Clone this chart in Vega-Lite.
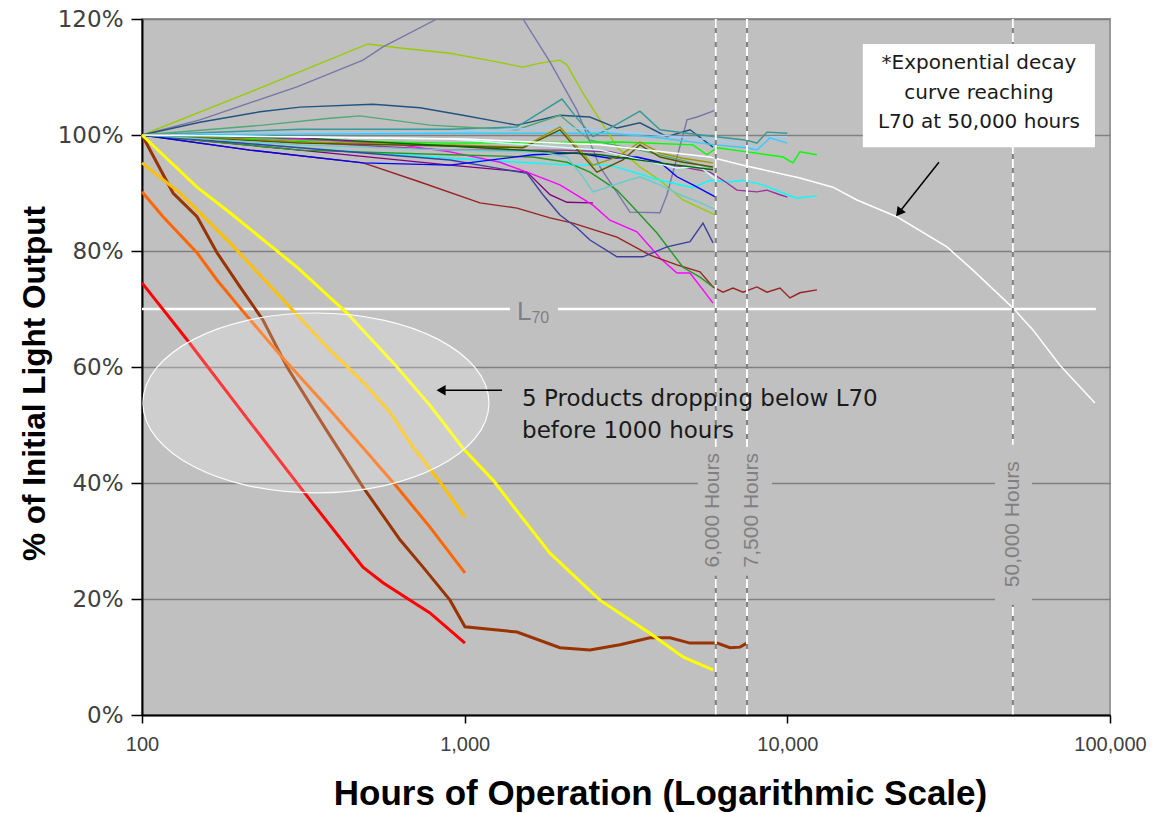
{
"$schema": "https://vega.github.io/schema/vega-lite/v6.json",
"width": 968, "height": 696,
"autosize": {"type": "none"},
"padding": {"left": 142, "top": 19, "right": 49, "bottom": 98},
"background": "#ffffff",
"config": {"view": {"fill": "#C0C0C0", "stroke": "#999999", "strokeWidth": 2}},
"resolve": {"scale": {"color": "independent"}},
"datasets": {
"cluster": [
{"s":"A","h":100,"pct":100},{"s":"A","h":216.1,"pct":107.4},{"s":"A","h":501.5,"pct":115.7},{"s":"A","h":630.3,"pct":115.0},{"s":"A","h":900.5,"pct":114.1},{"s":"A","h":1259,"pct":112.6},{"s":"A","h":1516,"pct":111.7},{"s":"A","h":1712,"pct":112.4},{"s":"A","h":1974,"pct":112.9},{"s":"A","h":2075,"pct":112.1},{"s":"A","h":2326,"pct":107.2},{"s":"A","h":2626,"pct":102.6},{"s":"A","h":2965,"pct":97.9},{"s":"A","h":3493,"pct":94.5},{"s":"A","h":4030,"pct":92.2},{"s":"A","h":4749,"pct":88.8},{"s":"A","h":6000,"pct":86.2},
{"s":"B","h":100,"pct":100},{"s":"B","h":151.2,"pct":102.6},{"s":"B","h":302.2,"pct":108.3},{"s":"B","h":484.1,"pct":112.9},{"s":"B","h":558.3,"pct":115.2},{"s":"B","h":820.7,"pct":120},{"s":"B","h":1115,"pct":124.1},{"s":"B","h":1516,"pct":120},{"s":"B","h":1838,"pct":112.6},{"s":"B","h":2228,"pct":104.3},{"s":"B","h":2626,"pct":94.5},{"s":"B","h":3253,"pct":86.7},{"s":"B","h":4030,"pct":86.6},{"s":"B","h":4237,"pct":89.7},{"s":"B","h":4887,"pct":102.6},{"s":"B","h":5248,"pct":103.1},{"s":"B","h":6000,"pct":104.3},
{"s":"C","h":100,"pct":100},{"s":"C","h":151.2,"pct":102.2},{"s":"C","h":232.1,"pct":104.0},{"s":"C","h":308.8,"pct":104.8},{"s":"C","h":519.7,"pct":105.3},{"s":"C","h":727.3,"pct":104.7},{"s":"C","h":987.9,"pct":103.4},{"s":"C","h":1453,"pct":101.7},{"s":"C","h":1974,"pct":103.4},{"s":"C","h":2445,"pct":103.1},{"s":"C","h":2965,"pct":101.2},{"s":"C","h":3493,"pct":102.1},{"s":"C","h":4237,"pct":99.7},{"s":"C","h":4993,"pct":100.9},{"s":"C","h":5884,"pct":97.9},
{"s":"D","h":100,"pct":100},{"s":"D","h":308.8,"pct":101.0},{"s":"D","h":900.5,"pct":101.0},{"s":"D","h":1453,"pct":101.4},{"s":"D","h":2003,"pct":106.2},{"s":"D","h":2228,"pct":102.9},{"s":"D","h":2498,"pct":99.7},{"s":"D","h":2820,"pct":101.2},{"s":"D","h":3493,"pct":104.1},{"s":"D","h":4030,"pct":100.9},{"s":"D","h":4887,"pct":100.3},{"s":"D","h":6000,"pct":99.7},{"s":"D","h":7497,"pct":99.1},{"s":"D","h":8051,"pct":98.6},{"s":"D","h":8648,"pct":100.5},{"s":"D","h":10000,"pct":100.3},
{"s":"E","h":100,"pct":100},{"s":"E","h":237.1,"pct":101.7},{"s":"E","h":382.5,"pct":102.9},{"s":"E","h":473.8,"pct":103.3},{"s":"E","h":780.6,"pct":101.7},{"s":"E","h":1115,"pct":101.2},{"s":"E","h":1453,"pct":100.9},{"s":"E","h":1974,"pct":103.4},{"s":"E","h":2445,"pct":99.1},{"s":"E","h":3493,"pct":97.4},{"s":"E","h":4649,"pct":95.7},{"s":"E","h":5884,"pct":94.3},
{"s":"F","h":100,"pct":100},{"s":"F","h":308.8,"pct":100.3},{"s":"F","h":900.5,"pct":100.5},{"s":"F","h":1974,"pct":101.4},{"s":"F","h":3493,"pct":100.3},{"s":"F","h":6000,"pct":99.1},{"s":"F","h":7497,"pct":98.3},{"s":"F","h":8226,"pct":97.8},{"s":"F","h":8836,"pct":99.7},{"s":"F","h":10000,"pct":99.7},
{"s":"G","h":100,"pct":100},{"s":"G","h":900.5,"pct":100.3},{"s":"G","h":1838,"pct":100.3},{"s":"G","h":2820,"pct":100.3},{"s":"G","h":3752,"pct":99.7},{"s":"G","h":6000,"pct":98.3},{"s":"G","h":7497,"pct":97.8},{"s":"G","h":8051,"pct":97.4},{"s":"G","h":8836,"pct":99.5},{"s":"G","h":10000,"pct":98.6},
{"s":"H","h":100,"pct":100},{"s":"H","h":308.8,"pct":99.1},{"s":"H","h":900.5,"pct":98.6},{"s":"H","h":3029,"pct":98.8},{"s":"H","h":5100,"pct":98.3},{"s":"H","h":5637,"pct":96.6},{"s":"H","h":6055,"pct":97.8},{"s":"H","h":7497,"pct":97.1},{"s":"H","h":9691,"pct":96.2},{"s":"H","h":10410,"pct":95.2},{"s":"H","h":10940,"pct":97.1},{"s":"H","h":12350,"pct":96.6},
{"s":"I","h":100,"pct":100},{"s":"I","h":308.8,"pct":97.8},{"s":"I","h":900.5,"pct":96.0},{"s":"I","h":1484,"pct":95.3},{"s":"I","h":2120,"pct":94.8},{"s":"I","h":2820,"pct":94.8},{"s":"I","h":3569,"pct":93.1},{"s":"I","h":4030,"pct":92.2},{"s":"I","h":5100,"pct":90.9},{"s":"I","h":5759,"pct":92.2},{"s":"I","h":6641,"pct":91.9},{"s":"I","h":7286,"pct":92.2},{"s":"I","h":8404,"pct":91.4},{"s":"I","h":10000,"pct":89.7},{"s":"I","h":10710,"pct":89.1},{"s":"I","h":12350,"pct":89.5},
{"s":"J","h":100,"pct":100},{"s":"J","h":308.8,"pct":98.8},{"s":"J","h":900.5,"pct":97.4},{"s":"J","h":1974,"pct":97.4},{"s":"J","h":2820,"pct":97.1},{"s":"J","h":4030,"pct":95.2},{"s":"J","h":5759,"pct":93.6},{"s":"J","h":6318,"pct":92.2},{"s":"J","h":6981,"pct":90.5},{"s":"J","h":8051,"pct":90.2},{"s":"J","h":8648,"pct":90.5},{"s":"J","h":9486,"pct":89.7},{"s":"J","h":10000,"pct":89.3},
{"s":"K","h":100,"pct":100},{"s":"K","h":308.8,"pct":97.4},{"s":"K","h":900.5,"pct":94.8},{"s":"K","h":1560,"pct":93.6},{"s":"K","h":1838,"pct":89.7},{"s":"K","h":2075,"pct":88.4},{"s":"K","h":2498,"pct":88.3},
{"s":"L","h":100,"pct":100},{"s":"L","h":201.3,"pct":99.7},{"s":"L","h":382.5,"pct":99.1},{"s":"L","h":630.3,"pct":98.3},{"s":"L","h":900.5,"pct":97.1},{"s":"L","h":1287,"pct":95.3},{"s":"L","h":1560,"pct":93.6},{"s":"L","h":1974,"pct":91.4},{"s":"L","h":2498,"pct":87.9},{"s":"L","h":2820,"pct":85.3},{"s":"L","h":3419,"pct":83.3},{"s":"L","h":4030,"pct":78.8},{"s":"L","h":4550,"pct":76.2},{"s":"L","h":4993,"pct":76.2},{"s":"L","h":5478,"pct":73.3},{"s":"L","h":5884,"pct":71.0},
{"s":"M","h":100,"pct":100},{"s":"M","h":216.1,"pct":97.4},{"s":"M","h":484.1,"pct":95.2},{"s":"M","h":508.7,"pct":94.8},{"s":"M","h":727.3,"pct":91.9},{"s":"M","h":1115,"pct":88.3},{"s":"M","h":1453,"pct":87.4},{"s":"M","h":1838,"pct":85.7},{"s":"M","h":2166,"pct":84.8},{"s":"M","h":2965,"pct":82.4},{"s":"M","h":3752,"pct":79.3},{"s":"M","h":4550,"pct":77.6},{"s":"M","h":5362,"pct":76.4},{"s":"M","h":5884,"pct":73.8},{"s":"M","h":6318,"pct":72.9},{"s":"M","h":6785,"pct":73.6},{"s":"M","h":7286,"pct":72.9},{"s":"M","h":8051,"pct":73.8},{"s":"M","h":8648,"pct":72.9},{"s":"M","h":9486,"pct":73.6},{"s":"M","h":10190,"pct":71.9},{"s":"M","h":10940,"pct":72.8},{"s":"M","h":12350,"pct":73.3},
{"s":"N","h":100,"pct":100},{"s":"N","h":308.8,"pct":97.4},{"s":"N","h":900.5,"pct":96.6},{"s":"N","h":1628,"pct":96.2},{"s":"N","h":2075,"pct":95.3},{"s":"N","h":2445,"pct":93.6},{"s":"N","h":2965,"pct":90.5},{"s":"N","h":3323,"pct":87.6},{"s":"N","h":3945,"pct":83.1},{"s":"N","h":4749,"pct":77.2},{"s":"N","h":5362,"pct":75.5},{"s":"N","h":5884,"pct":73.8},
{"s":"O","h":100,"pct":100},{"s":"O","h":308.8,"pct":97.8},{"s":"O","h":900.5,"pct":95.7},{"s":"O","h":1560,"pct":93.4},{"s":"O","h":1748,"pct":89.7},{"s":"O","h":1974,"pct":86.2},{"s":"O","h":2228,"pct":84.0},{"s":"O","h":2445,"pct":81.9},{"s":"O","h":2965,"pct":79.0},{"s":"O","h":3569,"pct":79.0},{"s":"O","h":4237,"pct":80.7},{"s":"O","h":4993,"pct":81.6},{"s":"O","h":5478,"pct":84.8},{"s":"O","h":5884,"pct":81.4},
{"s":"P","h":100,"pct":100},{"s":"P","h":216.1,"pct":97.4},{"s":"P","h":484.1,"pct":95.2},{"s":"P","h":900.5,"pct":94.8},{"s":"P","h":1628,"pct":96.6},{"s":"P","h":2228,"pct":96.9},{"s":"P","h":2820,"pct":96.0},{"s":"P","h":3419,"pct":96.2},{"s":"P","h":4030,"pct":95.3},{"s":"P","h":4550,"pct":92.8},{"s":"P","h":5100,"pct":91.4},{"s":"P","h":6000,"pct":89.3},
{"s":"Q","h":100,"pct":100},{"s":"Q","h":308.8,"pct":98.8},{"s":"Q","h":900.5,"pct":98.3},{"s":"Q","h":1516,"pct":97.9},{"s":"Q","h":1974,"pct":101.4},{"s":"Q","h":2498,"pct":94.8},{"s":"Q","h":2965,"pct":96.2},{"s":"Q","h":3493,"pct":98.8},{"s":"Q","h":4030,"pct":96.9},{"s":"Q","h":4749,"pct":96.0},{"s":"Q","h":5884,"pct":95.2},
{"s":"R","h":100,"pct":100},{"s":"R","h":308.8,"pct":98.6},{"s":"R","h":900.5,"pct":98.1},{"s":"R","h":1516,"pct":97.8},{"s":"R","h":1974,"pct":100.9},{"s":"R","h":2570,"pct":93.6},{"s":"R","h":3094,"pct":95.7},{"s":"R","h":3493,"pct":98.3},{"s":"R","h":4030,"pct":96.2},{"s":"R","h":4749,"pct":95.3},{"s":"R","h":5884,"pct":94.5},
{"s":"S","h":100,"pct":100},{"s":"S","h":308.8,"pct":98.3},{"s":"S","h":900.5,"pct":97.4},{"s":"S","h":1712,"pct":97.1},{"s":"S","h":2075,"pct":96.2},{"s":"S","h":2326,"pct":92.8},{"s":"S","h":2498,"pct":90.2},{"s":"S","h":3094,"pct":91.9},{"s":"S","h":3493,"pct":92.8},{"s":"S","h":4030,"pct":91.4},{"s":"S","h":4649,"pct":89.7},{"s":"S","h":5362,"pct":88.4},{"s":"S","h":6000,"pct":87.1},
{"s":"T","h":100,"pct":100},{"s":"T","h":900.5,"pct":99.3},{"s":"T","h":2626,"pct":97.4},{"s":"T","h":4550,"pct":94.3},{"s":"T","h":5362,"pct":94.5},{"s":"T","h":6000,"pct":92.4},
{"s":"U","h":100,"pct":100},{"s":"U","h":308.8,"pct":99.5},{"s":"U","h":900.5,"pct":98.1},{"s":"U","h":2626,"pct":96.6},{"s":"U","h":4030,"pct":95.2},{"s":"U","h":5884,"pct":94.0}
],
"failing": [
{"s":"Red","h":100,"pct":74.5},{"s":"Red","h":137.9,"pct":64.7},{"s":"Red","h":216.1,"pct":50.5},{"s":"Red","h":331.6,"pct":37.1},{"s":"Red","h":484.1,"pct":25.5},{"s":"Red","h":558.3,"pct":22.8},{"s":"Red","h":780.6,"pct":17.6},{"s":"Red","h":1002,"pct":12.4},
{"s":"Brown","h":100,"pct":100},{"s":"Brown","h":124.8,"pct":90.0},{"s":"Brown","h":148.1,"pct":85.9},{"s":"Brown","h":170.8,"pct":79.7},{"s":"Brown","h":201.3,"pct":73.8},{"s":"Brown","h":237.1,"pct":68.1},{"s":"Brown","h":281.5,"pct":60.0},{"s":"Brown","h":369.1,"pct":49.5},{"s":"Brown","h":484.1,"pct":39.3},{"s":"Brown","h":630.3,"pct":30.2},{"s":"Brown","h":743,"pct":25.5},{"s":"Brown","h":900.5,"pct":19.8},{"s":"Brown","h":1002,"pct":15.2},{"s":"Brown","h":1453,"pct":14.3},{"s":"Brown","h":1974,"pct":11.6},{"s":"Brown","h":2445,"pct":11.2},{"s":"Brown","h":3029,"pct":12.1},{"s":"Brown","h":3752,"pct":13.3},{"s":"Brown","h":4328,"pct":13.3},{"s":"Brown","h":4993,"pct":12.4},{"s":"Brown","h":6055,"pct":12.4},{"s":"Brown","h":6641,"pct":11.6},{"s":"Brown","h":7132,"pct":11.7},{"s":"Brown","h":7497,"pct":12.4},
{"s":"Orange","h":100,"pct":90.2},{"s":"Orange","h":116.2,"pct":85.9},{"s":"Orange","h":148.1,"pct":79.7},{"s":"Orange","h":170.8,"pct":75.0},{"s":"Orange","h":201.3,"pct":70.2},{"s":"Orange","h":267.7,"pct":62.1},{"s":"Orange","h":382.5,"pct":52.6},{"s":"Orange","h":491,"pct":45.7},{"s":"Orange","h":617,"pct":39.3},{"s":"Orange","h":780.6,"pct":32.4},{"s":"Orange","h":1002,"pct":24.5},
{"s":"Gold","h":100,"pct":95.2},{"s":"Gold","h":131.2,"pct":90.0},{"s":"Gold","h":187.4,"pct":81.4},{"s":"Gold","h":273.5,"pct":71.6},{"s":"Gold","h":382.5,"pct":62.9},{"s":"Gold","h":484.1,"pct":57.4},{"s":"Gold","h":586.9,"pct":52.2},{"s":"Gold","h":691.8,"pct":46.2},{"s":"Gold","h":838.5,"pct":40.2},{"s":"Gold","h":1002,"pct":34.1},
{"s":"Yellow","h":100,"pct":100},{"s":"Yellow","h":148.1,"pct":91.0},{"s":"Yellow","h":187.4,"pct":86.6},{"s":"Yellow","h":302.2,"pct":77.2},{"s":"Yellow","h":431.8,"pct":69.3},{"s":"Yellow","h":617,"pct":60.0},{"s":"Yellow","h":780.6,"pct":53.4},{"s":"Yellow","h":987.9,"pct":46.0},{"s":"Yellow","h":1224,"pct":40.5},{"s":"Yellow","h":1484,"pct":34.5},{"s":"Yellow","h":1838,"pct":27.9},{"s":"Yellow","h":2626,"pct":19.8},{"s":"Yellow","h":3752,"pct":14.1},{"s":"Yellow","h":4749,"pct":10.0},{"s":"Yellow","h":5884,"pct":7.8}
],
"decay": [
{"h":100,"pct":100},{"h":1002,"pct":99.3},{"h":2626,"pct":98.3},{"h":5759,"pct":96.2},{"h":7286,"pct":94.8},{"h":10940,"pct":92.6},{"h":13850,"pct":91.0},{"h":16430,"pct":88.8},{"h":21860,"pct":85.9},{"h":31230,"pct":80.7},{"h":37600,"pct":76.7},{"h":50000,"pct":70.2},{"h":57700,"pct":66.4},{"h":69950,"pct":60.3},{"h":89810,"pct":53.8}
]
},
"layer": [
{"data": {"name": "cluster"},
 "mark": {"type": "line", "strokeWidth": 1.4, "clip": true},
 "encoding": {
  "x": {"field":"h","type":"quantitative","title":"Hours of Operation (Logarithmic Scale)","scale":{"type":"log","domain":[100,100000],"nice":false},
    "axis": {"title":"Hours of Operation (Logarithmic Scale)","values":[100,1000,10000,100000],"format":",","grid":false,
      "domainColor":"#000000","domainWidth":2,"tickColor":"#000000","tickWidth":1.5,"tickSize":8,
      "labelFont":"Liberation Sans, Arial, sans-serif","labelFontSize":20,"labelColor":"#404040","labelPadding":11,"labelFlush":false,
      "titleFont":"Liberation Sans, Arial, sans-serif","titleFontSize":35,"titleFontWeight":"bold","titleColor":"#000000","titlePadding":22,"titleX":518}},
  "y": {"field":"pct","type":"quantitative","title":"% of Initial Light Output","scale":{"domain":[0,120],"nice":false,"zero":false},
    "axis": {"title":"% of Initial Light Output","values":[0,20,40,60,80,100,120],"labelExpr":"datum.value + '%'",
      "grid":true,"gridColor":"#808080","gridWidth":1.5,
      "domainColor":"#000000","domainWidth":2,"tickColor":"#000000","tickWidth":1.5,"tickSize":11,
      "labelFont":"DejaVu Sans, sans-serif","labelFontSize":23,"labelColor":"#404040","labelPadding":8,
      "titleFont":"Liberation Sans, Arial, sans-serif","titleFontSize":31.5,"titleFontWeight":"bold","titleColor":"#000000","titlePadding":6,"titleY":364}},
  "color": {"field":"s","type":"nominal","legend":null,
    "scale":{"domain":["A","B","C","D","E","F","G","H","I","J","K","L","M","N","O","P","Q","R","S","T","U"],
      "range":["#99CC00","#7777AA","#215380","#339999","#50A878","#99CCFF","#33CCFF","#00FF00","#00FFFF","#993399","#800080","#FF00FF","#992222","#229922","#3F3F9F","#0000FF","#999900","#555500","#66CCCC","#CCFFFF","#006600"]}}}},
{"data": {"values": [{"h":100,"h2":1381,"pct":70},{"h":1946,"h2":90420,"pct":70}]},
 "mark": {"type": "rule", "color": "#ffffff", "strokeWidth": 2.5},
 "encoding": {
  "x": {"field":"h","type":"quantitative","title":"Hours of Operation (Logarithmic Scale)","scale":{"type":"log","domain":[100,100000],"nice":false}},
  "x2": {"field":"h2"},
  "y": {"field":"pct","type":"quantitative","title":"% of Initial Light Output","scale":{"domain":[0,120],"nice":false,"zero":false}}}},
{"data": {"name": "decay"},
 "mark": {"type": "line", "color": "#ffffff", "strokeWidth": 1.5},
 "encoding": {
  "x": {"field":"h","type":"quantitative","title":"Hours of Operation (Logarithmic Scale)","scale":{"type":"log","domain":[100,100000],"nice":false}},
  "y": {"field":"pct","type":"quantitative","title":"% of Initial Light Output","scale":{"domain":[0,120],"nice":false,"zero":false}}}},
{"data": {"name": "failing"},
 "mark": {"type": "line", "strokeWidth": 3},
 "encoding": {
  "x": {"field":"h","type":"quantitative","title":"Hours of Operation (Logarithmic Scale)","scale":{"type":"log","domain":[100,100000],"nice":false}},
  "y": {"field":"pct","type":"quantitative","title":"% of Initial Light Output","scale":{"domain":[0,120],"nice":false,"zero":false}},
  "color": {"field":"s","type":"nominal","legend":null,
    "scale":{"domain":["Red","Brown","Orange","Gold","Yellow"],"range":["#FF0000","#993300","#FF6600","#FFC000","#FFFF00"]}}}},
{"data": {"values": [{"h":6000},{"h":7500},{"h":50000}]},
 "mark": {"type": "rule", "color": "#808080", "strokeWidth": 2},
 "encoding": {"x": {"field":"h","type":"quantitative","title":"Hours of Operation (Logarithmic Scale)","scale":{"type":"log","domain":[100,100000],"nice":false}}}},
{"data": {"values": [{"h":6000},{"h":7500},{"h":50000}]},
 "mark": {"type": "rule", "color": "#ffffff", "strokeWidth": 2, "strokeDash": [9, 5]},
 "encoding": {"x": {"field":"h","type":"quantitative","title":"Hours of Operation (Logarithmic Scale)","scale":{"type":"log","domain":[100,100000],"nice":false}}}},
{"data": {"values": [{"h":5283,"h2":6687,"pct":46.2,"pct2":24.0},{"h":6687,"h2":8960,"pct":46.2,"pct2":24.0},{"h":44000,"h2":57290,"pct":46.6,"pct2":19.0}]},
 "mark": {"type": "rect", "fill": "#C0C0C0"},
 "encoding": {
  "x": {"field":"h","type":"quantitative","title":"Hours of Operation (Logarithmic Scale)","scale":{"type":"log","domain":[100,100000],"nice":false}},
  "x2": {"field":"h2"},
  "y": {"field":"pct","type":"quantitative","title":"% of Initial Light Output","scale":{"domain":[0,120],"nice":false,"zero":false}},
  "y2": {"field":"pct2"}}},
{"data": {"values": [{"h":5884,"pct":35.3,"t":"6,000 Hours"},{"h":7769,"pct":35.3,"t":"7,500 Hours"},{"h":50000,"pct":32.9,"t":"50,000 Hours"}]},
 "mark": {"type": "text", "angle": 270, "align": "center", "baseline": "middle", "font": "Liberation Sans, Arial, sans-serif", "fontSize": 21, "color": "#808080"},
 "encoding": {
  "x": {"field":"h","type":"quantitative","title":"Hours of Operation (Logarithmic Scale)","scale":{"type":"log","domain":[100,100000],"nice":false}},
  "y": {"field":"pct","type":"quantitative","title":"% of Initial Light Output","scale":{"domain":[0,120],"nice":false,"zero":false}},
  "text": {"field":"t"}}},
{"data": {"values": [{"h":1452,"pct":68.1,"t":"L"}]},
 "mark": {"type": "text", "align": "left", "baseline": "alphabetic", "font": "Liberation Sans, Arial, sans-serif", "fontSize": 26, "color": "#808080"},
 "encoding": {
  "x": {"field":"h","type":"quantitative","title":"Hours of Operation (Logarithmic Scale)","scale":{"type":"log","domain":[100,100000],"nice":false}},
  "y": {"field":"pct","type":"quantitative","title":"% of Initial Light Output","scale":{"domain":[0,120],"nice":false,"zero":false}},
  "text": {"field":"t"}}},
{"data": {"values": [{"h":1610,"pct":67.6,"t":"70"}]},
 "mark": {"type": "text", "align": "left", "baseline": "alphabetic", "font": "Liberation Sans, Arial, sans-serif", "fontSize": 16, "color": "#808080"},
 "encoding": {
  "x": {"field":"h","type":"quantitative","title":"Hours of Operation (Logarithmic Scale)","scale":{"type":"log","domain":[100,100000],"nice":false}},
  "y": {"field":"pct","type":"quantitative","title":"% of Initial Light Output","scale":{"domain":[0,120],"nice":false,"zero":false}},
  "text": {"field":"t"}}},
{"data": {"values": [{"h":346,"pct":53.8}]},
 "mark": {"type": "point", "shape": "M1,0C1,0.2872,0.5523,0.52,0,0.52C-0.5523,0.52,-1,0.2872,-1,0C-1,-0.2872,-0.5523,-0.52,0,-0.52C0.5523,-0.52,1,-0.2872,1,0Z", "size": 119716, "filled": true, "fill": "#ffffff", "fillOpacity": 0.22, "stroke": "#ffffff", "strokeWidth": 1.2, "strokeOpacity": 0.95, "opacity": 1},
 "encoding": {
  "x": {"field":"h","type":"quantitative","title":"Hours of Operation (Logarithmic Scale)","scale":{"type":"log","domain":[100,100000],"nice":false}},
  "y": {"field":"pct","type":"quantitative","title":"% of Initial Light Output","scale":{"domain":[0,120],"nice":false,"zero":false}}}},
{"data": {"values": [{"h":845,"h2":1305,"pct":56}]},
 "mark": {"type": "rule", "color": "#000000", "strokeWidth": 1.5},
 "encoding": {
  "x": {"field":"h","type":"quantitative","title":"Hours of Operation (Logarithmic Scale)","scale":{"type":"log","domain":[100,100000],"nice":false}},
  "x2": {"field":"h2"},
  "y": {"field":"pct","type":"quantitative","title":"% of Initial Light Output","scale":{"domain":[0,120],"nice":false,"zero":false}}}},
{"data": {"values": [{"h":845,"pct":56}]},
 "mark": {"type": "point", "shape": "triangle-left", "size": 110, "filled": true, "color": "#000000", "opacity": 1},
 "encoding": {
  "x": {"field":"h","type":"quantitative","title":"Hours of Operation (Logarithmic Scale)","scale":{"type":"log","domain":[100,100000],"nice":false}},
  "y": {"field":"pct","type":"quantitative","title":"% of Initial Light Output","scale":{"domain":[0,120],"nice":false,"zero":false}}}},
{"data": {"values": [{"h":1506,"pct":53.3,"t":"5 Products dropping below L70"},{"h":1506,"pct":47.8,"t":"before 1000 hours"}]},
 "mark": {"type": "text", "align": "left", "baseline": "alphabetic", "font": "DejaVu Sans, sans-serif", "fontSize": 23, "color": "#1a1a1a"},
 "encoding": {
  "x": {"field":"h","type":"quantitative","title":"Hours of Operation (Logarithmic Scale)","scale":{"type":"log","domain":[100,100000],"nice":false}},
  "y": {"field":"pct","type":"quantitative","title":"% of Initial Light Output","scale":{"domain":[0,120],"nice":false,"zero":false}},
  "text": {"field":"t"}}},
{"data": {"values": [{"h":17140,"h2":89800,"pct":115.7,"pct2":97.9}]},
 "mark": {"type": "rect", "fill": "#ffffff"},
 "encoding": {
  "x": {"field":"h","type":"quantitative","title":"Hours of Operation (Logarithmic Scale)","scale":{"type":"log","domain":[100,100000],"nice":false}},
  "x2": {"field":"h2"},
  "y": {"field":"pct","type":"quantitative","title":"% of Initial Light Output","scale":{"domain":[0,120],"nice":false,"zero":false}},
  "y2": {"field":"pct2"}}},
{"data": {"values": [{"h":39250,"pct":111.4,"t":"*Exponential decay"},{"h":39250,"pct":106.2,"t":"curve reaching"},{"h":39250,"pct":101.2,"t":"L70 at 50,000 hours"}]},
 "mark": {"type": "text", "align": "center", "baseline": "alphabetic", "font": "DejaVu Sans, sans-serif", "fontSize": 20, "color": "#1a1a1a"},
 "encoding": {
  "x": {"field":"h","type":"quantitative","title":"Hours of Operation (Logarithmic Scale)","scale":{"type":"log","domain":[100,100000],"nice":false}},
  "y": {"field":"pct","type":"quantitative","title":"% of Initial Light Output","scale":{"domain":[0,120],"nice":false,"zero":false}},
  "text": {"field":"t"}}},
{"data": {"values": [{"h":29500,"h2":22170,"pct":95.3,"pct2":86.6}]},
 "mark": {"type": "rule", "color": "#000000", "strokeWidth": 1.5},
 "encoding": {
  "x": {"field":"h","type":"quantitative","title":"Hours of Operation (Logarithmic Scale)","scale":{"type":"log","domain":[100,100000],"nice":false}},
  "x2": {"field":"h2"},
  "y": {"field":"pct","type":"quantitative","title":"% of Initial Light Output","scale":{"domain":[0,120],"nice":false,"zero":false}},
  "y2": {"field":"pct2"}}},
{"data": {"values": [{"h":22170,"pct":86.6}]},
 "mark": {"type": "point", "shape": "triangle-up", "angle": 218, "size": 110, "filled": true, "color": "#000000", "opacity": 1},
 "encoding": {
  "x": {"field":"h","type":"quantitative","title":"Hours of Operation (Logarithmic Scale)","scale":{"type":"log","domain":[100,100000],"nice":false}},
  "y": {"field":"pct","type":"quantitative","title":"% of Initial Light Output","scale":{"domain":[0,120],"nice":false,"zero":false}}}}
]
}
